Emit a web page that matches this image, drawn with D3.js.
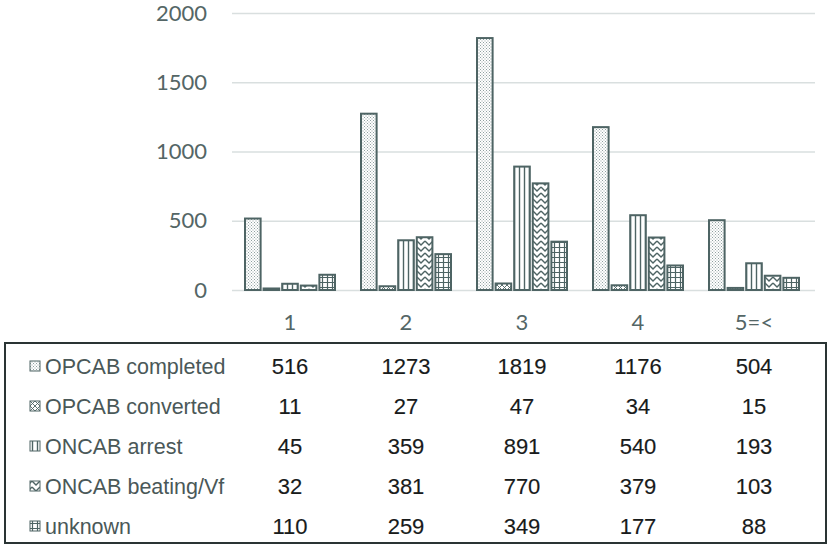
<!DOCTYPE html>
<html>
<head>
<meta charset="utf-8">
<script src="https://cdn.jsdelivr.net/npm/d3@7"></script>
<style>
  html, body { margin: 0; padding: 0; background: #fff; }
  svg { display: block; }
</style>
</head>
<body>
<div id="chart"></div>
<script>
// data
var categories = ["1", "2", "3", "4", "5=<"];
var seriesNames = ["OPCAB completed", "OPCAB converted", "ONCAB arrest", "ONCAB beating/Vf", "unknown"];
var opcabCompleted = [516, 1273, 1819, 1176, 504];
var opcabConverted = [11, 27, 47, 34, 15];
var oncabArrest = [45, 359, 891, 540, 193];
var oncabBeating = [32, 381, 770, 379, 103];
var unknown = [110, 259, 349, 177, 88];
var yTicks = [0, 500, 1000, 1500, 2000];

var seriesValues = [opcabCompleted, opcabConverted, oncabArrest, oncabBeating, unknown];
var patternIds = ["p-dots", "p-cross", "p-vert", "p-zig", "p-grid"];

var width = 829, height = 549;
var ink = "#4e6464";
var params = {
    plotLeft: 232, plotRight: 812,
    plotTop: 13, plotBottom: 290,
    tableTop: 343, tableBottom: 543, tableLeft: 5, tableRight: 826
};

var svg = d3.select("#chart").append("svg")
    .attr("width", width)
    .attr("height", height);

// --- patterns for the bar fills
var defs = svg.append("defs");

var pDots = defs.append("pattern").attr("id", "p-dots")
    .attr("patternUnits", "userSpaceOnUse").attr("width", 3).attr("height", 3);
pDots.append("rect").attr("width", 3).attr("height", 3).attr("fill", "#fff");
pDots.append("rect").attr("x", 0).attr("y", 0).attr("width", 1).attr("height", 1).attr("fill", "#8fa0a0");
pDots.append("rect").attr("x", 1.5).attr("y", 1.5).attr("width", 1).attr("height", 1).attr("fill", "#8fa0a0");

var pCross = defs.append("pattern").attr("id", "p-cross")
    .attr("patternUnits", "userSpaceOnUse").attr("width", 5).attr("height", 5);
pCross.append("rect").attr("width", 5).attr("height", 5).attr("fill", "#fff");
pCross.append("path").attr("d", "M0,0L5,5M5,0L0,5").attr("stroke", ink).attr("stroke-width", 0.9);

var pVert = defs.append("pattern").attr("id", "p-vert")
    .attr("patternUnits", "userSpaceOnUse").attr("width", 5).attr("height", 5);
pVert.append("rect").attr("width", 5).attr("height", 5).attr("fill", "#fff");
pVert.append("path").attr("d", "M2.5,0V5").attr("stroke", ink).attr("stroke-width", 1.4);

var pZig = defs.append("pattern").attr("id", "p-zig")
    .attr("patternUnits", "userSpaceOnUse").attr("width", 8).attr("height", 6);
pZig.append("rect").attr("width", 8).attr("height", 6).attr("fill", "#fff");
pZig.append("path").attr("d", "M0,1L4,5L8,1").attr("fill", "none")
    .attr("stroke", ink).attr("stroke-width", 1.4);

var pGrid = defs.append("pattern").attr("id", "p-grid")
    .attr("patternUnits", "userSpaceOnUse").attr("width", 5).attr("height", 5);
pGrid.append("rect").attr("width", 5).attr("height", 5).attr("fill", "#fff");
pGrid.append("path").attr("d", "M2.5,0V5M0,2.5H5").attr("stroke", ink).attr("stroke-width", 1.2);

// --- scales
var xScale = d3.scaleBand()
    .domain(categories)
    .range([params.plotLeft, params.plotRight])
    .paddingInner(0).paddingOuter(0);

var xInner = d3.scaleBand()
    .domain(seriesNames)
    .range([0, 90])
    .paddingInner(0.16);

var yScale = d3.scaleLinear()
    .domain([0, 2000])
    .range([params.plotBottom, params.plotTop]);

// --- y axis with gridlines
var yAxis = d3.axisLeft(yScale)
    .tickValues(yTicks)
    .tickSize(-(params.plotRight - params.plotLeft + 3))
    .tickPadding(25)
    .tickFormat(d3.format("d"));

var yAxisG = svg.append("g")
    .attr("class", "axis y-axis")
    .attr("transform", "translate(" + params.plotLeft + ",0)")
    .call(yAxis);
yAxisG.select(".domain").remove();
yAxisG.selectAll(".tick line").attr("stroke", "#d9dfdf").attr("stroke-width", 1.5);
yAxisG.selectAll(".tick text")
    .attr("fill", "#546666")
    .style("font-family", "Lato, 'Open Sans', sans-serif")
    .style("font-size", "22px");

// --- bars
var groups = svg.append("g").attr("class", "bars")
    .selectAll("g")
    .data(categories)
    .enter().append("g")
    .attr("transform", function (d) {
        return "translate(" + (xScale(d) + xScale.bandwidth() / 2 - 45) + ",0)";
    });

groups.selectAll("rect")
    .data(function (d, ci) {
        return seriesNames.map(function (s, si) {
            return { series: s, si: si, value: seriesValues[si][ci] };
        });
    })
    .enter().append("rect")
    .attr("x", function (d) { return xInner(d.series); })
    .attr("width", xInner.bandwidth())
    .attr("y", function (d) { return yScale(d.value); })
    .attr("height", function (d) { return yScale(0) - yScale(d.value); })
    .attr("fill", function (d) { return "url(#" + patternIds[d.si] + ")"; })
    .attr("stroke", ink)
    .attr("stroke-width", 2);

// --- category labels
svg.append("g").attr("class", "x-labels")
    .selectAll("text")
    .data(categories)
    .enter().append("text")
    .attr("x", function (d) { return xScale(d) + xScale.bandwidth() / 2; })
    .attr("y", 330)
    .attr("text-anchor", "middle")
    .attr("fill", "#546666")
    .style("font-family", "Lato, 'Open Sans', sans-serif")
    .style("font-size", "22px")
    .text(function (d) { return d; });

// --- data table
svg.append("rect")
    .attr("x", params.tableLeft)
    .attr("y", params.tableTop)
    .attr("width", params.tableRight - params.tableLeft)
    .attr("height", params.tableBottom - params.tableTop)
    .attr("fill", "none")
    .attr("stroke", "#2a3434")
    .attr("stroke-width", 2);

var rowScale = d3.scaleBand()
    .domain(seriesNames)
    .range([params.tableTop + 3, params.tableBottom + 3]);

var rows = svg.append("g").attr("class", "table")
    .selectAll("g")
    .data(seriesNames)
    .enter().append("g")
    .attr("transform", function (d) {
        return "translate(0," + (rowScale(d) + rowScale.bandwidth() / 2) + ")";
    });

rows.append("rect")
    .attr("x", 30).attr("y", -5)
    .attr("width", 10).attr("height", 10)
    .attr("fill", function (d, i) { return "url(#" + patternIds[i] + ")"; })
    .attr("stroke", ink)
    .attr("stroke-width", 1);

rows.append("text")
    .attr("x", 45)
    .attr("dy", "0.35em")
    .attr("fill", "#4a5858")
    .style("font-family", "'Liberation Sans', Arial, sans-serif")
    .style("font-size", "21.5px")
    .text(function (d) { return d; });

rows.selectAll("text.val")
    .data(function (d, i) {
        return categories.map(function (c, ci) { return { cat: c, value: seriesValues[i][ci] }; });
    })
    .enter().append("text")
    .attr("class", "val")
    .attr("x", function (d) { return xScale(d.cat) + xScale.bandwidth() / 2; })
    .attr("dy", "0.35em")
    .attr("text-anchor", "middle")
    .attr("fill", "#181b1b")
    .style("font-family", "'Liberation Sans', Arial, sans-serif")
    .style("font-size", "22px")
    .style("stroke", "#181b1b")
    .style("stroke-width", "0.15px")
    .text(function (d) { return d.value; });
</script>
</body>
</html>
